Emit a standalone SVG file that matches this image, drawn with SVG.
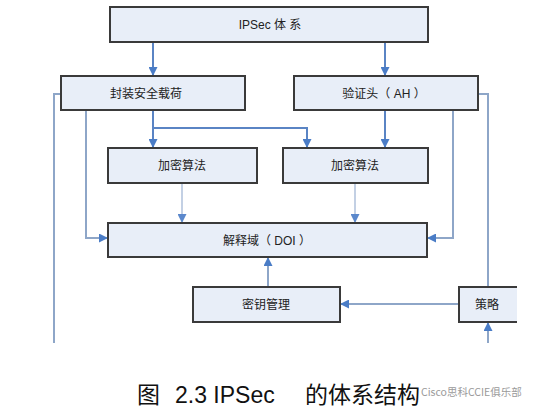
<svg xmlns="http://www.w3.org/2000/svg" width="541" height="416" viewBox="0 0 541 416">
<defs>
<marker id="ah" viewBox="0 0 10 10" refX="10" refY="5" markerWidth="9" markerHeight="9" markerUnits="userSpaceOnUse" orient="auto"><path d="M0,0 L10,5 L0,10 z" fill="#4a7cc6"/></marker>
<marker id="ahl" viewBox="0 0 10 10" refX="10" refY="5" markerWidth="9" markerHeight="9" markerUnits="userSpaceOnUse" orient="auto"><path d="M0,0 L10,5 L0,10 z" fill="#5b88cc"/></marker>
</defs>
<style>
.box{fill:#e8eef8;stroke:#3a3a3a;stroke-width:2}
.t{font-family:"Liberation Sans","Noto Sans CJK SC",sans-serif;font-size:12px;fill:#222;text-anchor:middle}
.c{fill:none;stroke:#5a84c4;stroke-width:2}
.g{fill:none;stroke:#8ea6c8;stroke-width:2}
.l{fill:none;stroke:#c3d0e4;stroke-width:2}
.cap{font-family:"Liberation Sans","Noto Sans CJK SC",sans-serif;font-size:23px;fill:#111}
</style>
<rect width="541" height="416" fill="#fff"/>
<g id="connectors">
<path class="c" d="M153,42 V76" marker-end="url(#ah)"/>
<path class="c" d="M385,42 V76" marker-end="url(#ah)"/>
<path class="g" d="M61,94 H54 V343"/>
<path class="g" d="M86,110 V238 H108" marker-end="url(#ah)"/>
<path class="c" d="M153,110 V148" marker-end="url(#ah)"/>
<path class="c" d="M153,128 H307 V148" marker-end="url(#ah)"/>
<path class="c" d="M385,110 V148" marker-end="url(#ah)"/>
<path class="g" d="M453,110 V238 H427" marker-end="url(#ah)"/>
<path class="g" d="M478,94 H488 V287"/>
<path class="l" d="M182,183 V223" marker-end="url(#ahl)"/>
<path class="l" d="M355,183 V223" marker-end="url(#ahl)"/>
<path class="g" d="M268,287 V257" marker-end="url(#ah)"/>
<path class="g" d="M459,304 H340" marker-end="url(#ah)"/>
<path class="g" d="M488,343 V322" marker-end="url(#ah)"/>
</g>
<g id="ipsec"><rect class="box" x="110" y="7" width="318" height="35"/><text class="t" x="270" y="28.5">IPSec 体 系</text></g>
<g id="esp"><rect class="box" x="61" y="76" width="184" height="34"/><text class="t" x="146" y="97.5">封装安全载荷</text></g>
<g id="ah-node"><rect class="box" x="294" y="76" width="184" height="34"/><text class="t" x="384" y="97.5">验证头（ AH ）</text></g>
<g id="enc1"><rect class="box" x="108" y="148" width="149" height="35"/><text class="t" x="182" y="169.5">加密算法</text></g>
<g id="enc2"><rect class="box" x="283" y="148" width="145" height="35"/><text class="t" x="355" y="169.5">加密算法</text></g>
<g id="doi"><rect class="box" x="108" y="223" width="319" height="34"/><text class="t" x="267" y="244.5">解释域（ DOI ）</text></g>
<g id="key"><rect class="box" x="193" y="287" width="147" height="35"/><text class="t" x="266" y="308.5">密钥管理</text></g>
<g id="policy"><rect x="459" y="287" width="58" height="35" fill="#e8eef8"/><path d="M517,287 H459 V322 H517" fill="none" stroke="#3a3a3a" stroke-width="2"/><text class="t" x="487" y="308.5">策略</text></g>
<text class="cap" x="137" y="403">图<tspan x="175">2.3 IPSec</tspan><tspan x="305">的体系结构</tspan></text>
<text x="421" y="396" font-family="'Noto Sans CJK SC',sans-serif" font-size="10.5" fill="#9a9a9a">Cisco思科CCIE俱乐部</text>
</svg>
